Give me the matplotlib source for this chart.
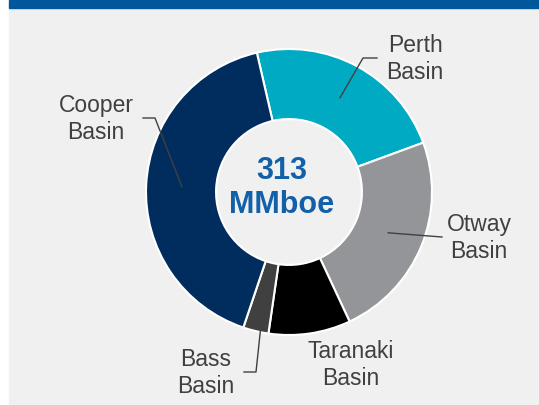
import numpy as np
import matplotlib.pyplot as plt
from matplotlib.patches import Rectangle

plt.rcParams['font.family'] = ['Liberation Sans', 'DejaVu Sans']

# reserves by basin (MMboe), clockwise from the top
basins = ['Perth\nBasin', 'Otway\nBasin', 'Taranaki\nBasin', 'Bass\nBasin', 'Cooper\nBasin']
values = [72, 74, 29, 9, 129]
colors = ['#00AAC3', '#939598', '#000000', '#404040', '#012D5E']
total_label = '313\nMMboe'

W, H = 539, 405
fig = plt.figure(figsize=(W / 100, H / 100), dpi=100)
ax = fig.add_axes([0, 0, 1, 1])
ax.set_xlim(0, W)
ax.set_ylim(0, H)
ax.axis('off')

# panel background + top band
ax.add_patch(Rectangle((9, 0), W - 9, H - 8, color='#F0F0F0', zorder=0))
ax.add_patch(Rectangle((9, H - 8), W - 9, 8, color='#00579B', zorder=0))

cx, cy, R = 289, 213, 143
start = 103
wedges, _ = ax.pie(values, colors=colors, startangle=start, counterclock=False,
                   center=(cx, cy), radius=R, frame=True,
                   wedgeprops=dict(width=R * 0.49, edgecolor='white', linewidth=1.5))
ax.set_xlim(0, W)
ax.set_ylim(0, H)
ax.axis('off')

ax.text(282, 217, total_label, ha='center', va='center', fontsize=22,
        fontweight='bold', color='#1260A8', linespacing=1.2)

# label positions and leader elbows (pixel coords, y up)
label_xy = [(415, 346), (479, 167), (351, 40), (206, 32), (96, 286)]
elbows = [[(363, 347), (377, 347)], [(442, 168)], None,
          [(256, 33), (244, 33)], [(155, 287), (143, 287)]]

for w, lab, pos, elb in zip(wedges, basins, label_xy, elbows):
    ax.text(pos[0], pos[1], lab, ha='center', va='center', fontsize=16.5,
            color='#404040', linespacing=1.2)
    if elb is None:
        continue
    mid = np.deg2rad((w.theta1 + w.theta2) / 2)
    ax_pt = (cx + 0.75 * R * np.cos(mid), cy + 0.75 * R * np.sin(mid))
    pts = [ax_pt] + elb
    ax.plot([p[0] for p in pts], [p[1] for p in pts], color='#404040', lw=1, zorder=5)

fig.savefig('out.png', dpi=100, facecolor='white')
